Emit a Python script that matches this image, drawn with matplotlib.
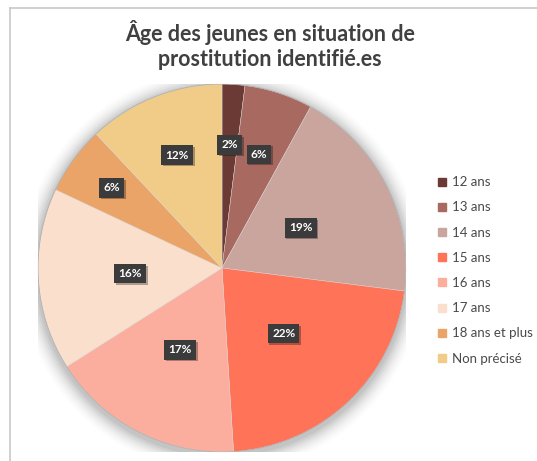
import matplotlib
matplotlib.use("Agg")
import numpy as np
import matplotlib.pyplot as plt
from matplotlib.lines import Line2D
from matplotlib.patches import Circle
from matplotlib.transforms import offset_copy

plt.rcParams["font.family"] = ["Lato", "DejaVu Sans"]

# data
categories = ["12 ans", "13 ans", "14 ans", "15 ans", "16 ans", "17 ans",
              "18 ans et plus", "Non précisé"]
shares = [2, 6, 19, 22, 17, 16, 6, 12]
colors = ["#6b3a35", "#a86a60", "#c9a59d", "#ff7358", "#fcae9e", "#f9dfcc",
          "#eaa468", "#f0cc88"]
# how far out each percentage label sits (fraction of radius)
label_r = [0.67, 0.65, 0.48, 0.49, 0.50, 0.50, 0.74, 0.66]

W, H = 537, 461
fig = plt.figure(figsize=(W / 100, H / 100), dpi=100)

# thin frame (top and left edges visible)
fig.add_artist(Line2D([10 / W, 10 / W], [0, 1 - 8 / H], color="#c8c8c8", lw=1.2))
fig.add_artist(Line2D([10 / W, 1], [1 - 8 / H, 1 - 8 / H], color="#c8c8c8", lw=1.2))

fig.text(270 / W, 1 - 45 / H, "Âge des jeunes en situation de\nprostitution identifié.es",
         ha="center", va="center", fontsize=15.5, fontweight="bold",
         color="#404040", linespacing=1.2)

cx, cy, r = 222, 268, 184
ax = fig.add_axes([(cx - r) / W, (H - cy - r) / H, 2 * r / W, 2 * r / H])
ax.set_xlim(-1, 1)
ax.set_ylim(-1, 1)
ax.axis("off")

# soft shadow around the pie
for i, a in enumerate(np.linspace(0.05, 0.01, 8)):
    ax.add_patch(Circle((0.0, -0.015), 1.0 + 0.012 * (i + 1), color="black",
                        alpha=a, lw=0, zorder=0))

wedges, _ = ax.pie(shares, colors=colors, startangle=90, counterclock=False,
                   radius=1, wedgeprops=dict(linewidth=0.3, edgecolor="#dddddd"))
for w in wedges:
    w.set_zorder(2)
ax.add_patch(Circle((0, 0), 1, fill=False, ec="#b0b0b0", lw=0.6, zorder=3))
ax.set_xlim(-1, 1)
ax.set_ylim(-1, 1)

for w, val, lr in zip(wedges, shares, label_r):
    ang = np.deg2rad((w.theta1 + w.theta2) / 2)
    x, y = lr * np.cos(ang), lr * np.sin(ang)
    sh = offset_copy(ax.transData, fig=fig, x=1.5, y=-1.5, units="dots")
    ax.text(x, y, f"{val}%", transform=sh, ha="center", va="center",
            fontsize=8.5, fontweight="bold", color="none", zorder=4,
            bbox=dict(boxstyle="square,pad=0.35", fc="black", ec="none", alpha=0.3))
    ax.text(x, y, f"{val}%", ha="center", va="center", fontsize=8.5,
            fontweight="bold", color="white", zorder=5,
            bbox=dict(boxstyle="square,pad=0.35", fc="#3b3b3b", ec="none"))

handles = [Line2D([], [], marker="s", ls="none", markersize=6, color=c) for c in colors]
fig.legend(handles, categories, loc="upper left",
           bbox_to_anchor=(432 / W, 1 - 171 / H), frameon=False,
           fontsize=9.5, labelcolor="#4a4a4a", handlelength=0.7,
           handletextpad=0.4, labelspacing=1.0, borderaxespad=0)

fig.savefig("out.png", dpi=100, facecolor="white")
